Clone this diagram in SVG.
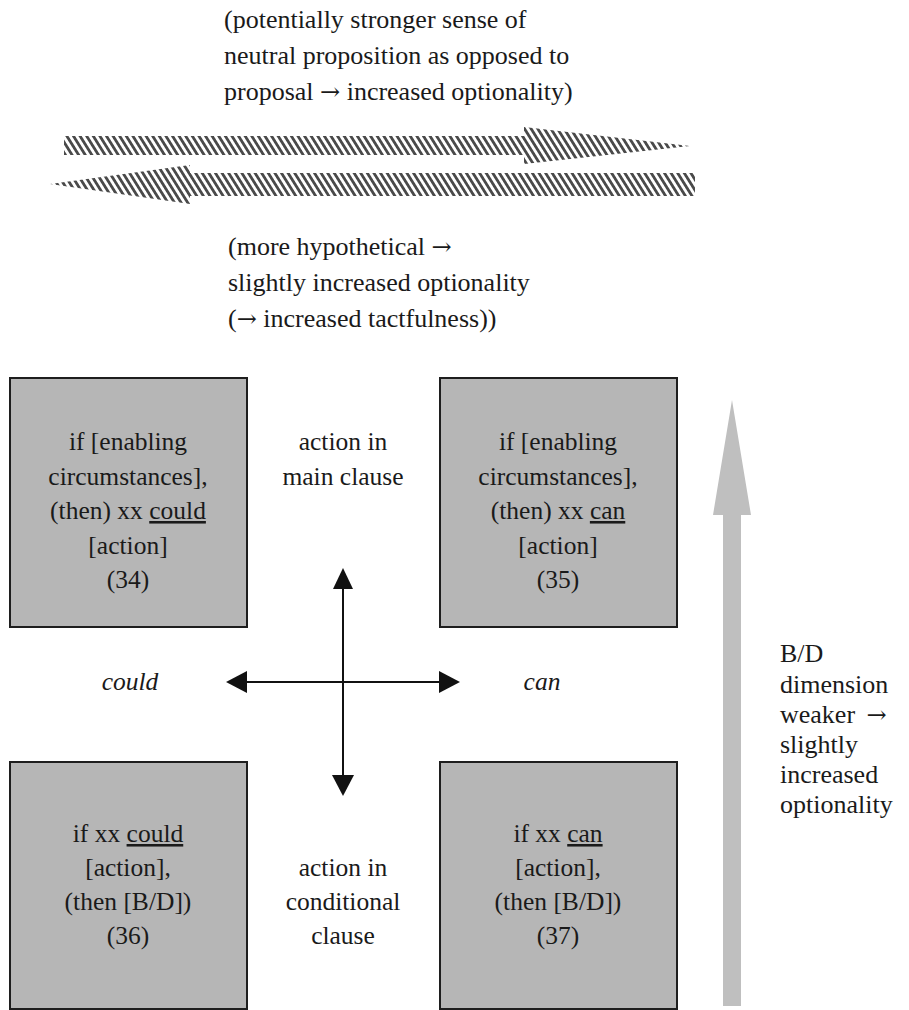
<svg xmlns="http://www.w3.org/2000/svg" width="909" height="1010" viewBox="0 0 909 1010">
  <style>
    text { font-family: "Liberation Serif", "Times New Roman", serif; font-size: 26px; fill: #1a1a1a; }
    .b { font-size: 25.5px; }
    .c { text-anchor: middle; }
    .i { font-style: italic; }
    .u { text-decoration: underline; }
    .ar { font-family: "DejaVu Serif", "Liberation Serif", serif; font-size: 24px; }
    .box { fill: #b6b6b6; stroke: #1e1e1e; stroke-width: 2; }
    .axis { stroke: #111; stroke-width: 2; fill: none; }
    .head { fill: #111; }
    .hatch { fill: url(#stripes); }
  </style>
  <defs>
    <!-- diagonal hatching for the two opposing arrows -->
    <pattern id="stripes" width="5.6" height="5.6" patternUnits="userSpaceOnUse" patternTransform="rotate(-32)">
      <rect x="0" y="0" width="2.8" height="5.6" fill="#4a4a4a"/>
    </pattern>
  </defs>

  <rect width="909" height="1010" fill="#ffffff"/>

  <!-- upper explanatory text -->
  <g id="note-top">
    <text x="224" y="28">(potentially stronger sense of</text>
    <text x="224" y="64">neutral proposition as opposed to</text>
    <text x="224" y="100">proposal <tspan class="ar">→</tspan> increased optionality)</text>
  </g>

  <!-- hatched opposing arrows -->
  <g id="hatched-arrows">
    <polygon class="hatch" points="64,136 524,136 524,127 690,146 524,164 524,155 64,155"/>
    <polygon class="hatch" points="695,173 190,173 190,165 50,184 190,204 190,196 695,196"/>
  </g>

  <g id="note-middle">
    <text x="228" y="255">(more hypothetical <tspan class="ar">→</tspan></text>
    <text x="228" y="291">slightly increased optionality</text>
    <text x="228" y="327">(<tspan class="ar">→</tspan> increased tactfulness))</text>
  </g>

  <!-- quadrant boxes -->
  <g id="box-34">
    <rect class="box" x="10" y="378" width="237" height="249"/>
    <text class="c b" x="128" y="450">if [enabling</text>
    <text class="c b" x="128" y="485">circumstances],</text>
    <text class="c b" x="128" y="519">(then) xx <tspan class="u">could</tspan></text>
    <text class="c b" x="128" y="554">[action]</text>
    <text class="c b" x="128" y="588">(34)</text>
  </g>
  <g id="box-35">
    <rect class="box" x="440" y="378" width="237" height="249"/>
    <text class="c b" x="558" y="450">if [enabling</text>
    <text class="c b" x="558" y="485">circumstances],</text>
    <text class="c b" x="558" y="519">(then) xx <tspan class="u">can</tspan></text>
    <text class="c b" x="558" y="554">[action]</text>
    <text class="c b" x="558" y="588">(35)</text>
  </g>
  <g id="box-36">
    <rect class="box" x="10" y="762" width="237" height="247"/>
    <text class="c b" x="128" y="842">if xx <tspan class="u">could</tspan></text>
    <text class="c b" x="128" y="876">[action],</text>
    <text class="c b" x="128" y="910">(then [B/D])</text>
    <text class="c b" x="128" y="944">(36)</text>
  </g>
  <g id="box-37">
    <rect class="box" x="440" y="762" width="237" height="247"/>
    <text class="c b" x="558" y="842">if xx <tspan class="u">can</tspan></text>
    <text class="c b" x="558" y="876">[action],</text>
    <text class="c b" x="558" y="910">(then [B/D])</text>
    <text class="c b" x="558" y="944">(37)</text>
  </g>

  <!-- axis labels -->
  <g id="label-main">
    <text class="c b" x="343" y="450">action in</text>
    <text class="c b" x="343" y="485">main clause</text>
  </g>
  <g id="label-conditional">
    <text class="c b" x="343" y="876">action in</text>
    <text class="c b" x="343" y="910">conditional</text>
    <text class="c b" x="343" y="944">clause</text>
  </g>
  <g id="label-could"><text class="c i b" x="130" y="690">could</text></g>
  <g id="label-can"><text class="c i b" x="542" y="690">can</text></g>

  <!-- cross of axes -->
  <g id="connectors">
    <line class="axis" x1="343" y1="585" x2="343" y2="778"/>
    <line class="axis" x1="244" y1="682" x2="442" y2="682"/>
    <polygon class="head" points="343,568 333,589 353,589"/>
    <polygon class="head" points="343,796 332,775 354,775"/>
    <polygon class="head" points="226,682 247,671 247,693"/>
    <polygon class="head" points="460,682 439,671 439,693"/>
  </g>

  <!-- B/D dimension arrow -->
  <g id="bd-arrow">
    <polygon fill="#bfbfbf" points="732,400 751,515 741,515 741,1006 723,1006 723,515 713,515"/>
  </g>
  <g id="bd-label">
    <text x="780" y="662">B/D</text>
    <text x="780" y="693">dimension</text>
    <text x="780" y="723">weaker <tspan class="ar" dx="5">→</tspan></text>
    <text x="780" y="753">slightly</text>
    <text x="780" y="783">increased</text>
    <text x="780" y="813">optionality</text>
  </g>
</svg>
